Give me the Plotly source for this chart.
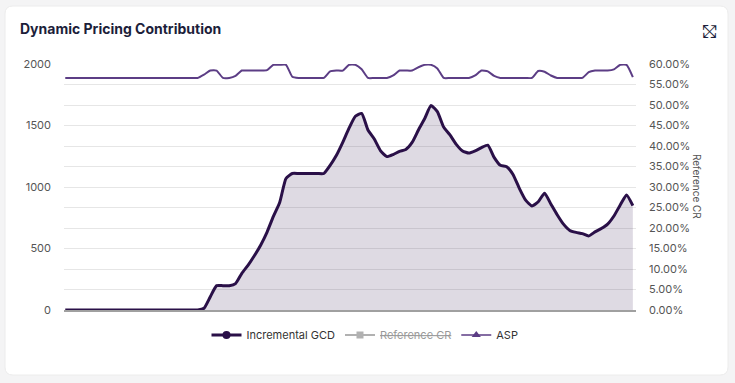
import plotly.graph_objects as go

# ---- data ----
days = list(range(91))

incremental_gcd = [0]*22 + [
    14, 108, 198, 198, 198, 215, 298, 365, 443, 529,
    634, 761, 874, 1069, 1110, 1110, 1110, 1110, 1110, 1110,
    1176, 1258, 1363, 1478, 1575, 1598, 1463, 1390, 1294, 1247,
    1264, 1290, 1305, 1362, 1464, 1557, 1662, 1613, 1487, 1423,
    1347, 1293, 1276, 1294, 1320, 1340, 1241, 1176, 1165, 1102,
    989, 893, 846, 880, 950, 862, 775, 698, 647, 631,
    621, 602, 635, 662, 698, 764, 854, 935, 848]

B, M, T = 0.566, 0.584, 0.598
asp = [B]*22 + [
    0.574, M, M, B, B, 0.571, M, M, M, M,          # 22-31
    0.585, T, T, T, 0.569, B, B, B, B, B,          # 32-41
    0.582, M, M, T, T, 0.587, B, B, B, B,          # 42-51
    0.572, M, M, M, 0.592, T, T, 0.589, B, B,      # 52-61
    B, B, B, 0.572, M, 0.582, 0.571, B, B, B,      # 62-71
    B, B, B, 0.583, 0.581, 0.572, B, B, B, B,      # 72-81
    B, 0.580, M, M, M, 0.587, T, T, 0.568]         # 82-90

reference_cr = [None]

left_ticks = [0, 500, 1000, 1500, 2000]

# ---- geometry helpers (plot area in px) ----
W, H = 735, 383
L, R, TOP, BOT = 64, 636, 64, 310
pw, ph = R - L, BOT - TOP
def fx(px): return (px - L) / pw
def fy(py): return (BOT - py) / ph

DARK = "#2a1048"
PURPLE = "#5c3d85"

fig = go.Figure()

fig.add_trace(go.Scatter(
    x=days, y=incremental_gcd, mode="lines", name="Incremental GCD",
    line=dict(color=DARK, width=3, shape="spline", smoothing=0.5), fill="tozeroy",
    fillcolor="rgba(70,50,100,0.18)", showlegend=False, legendgroup="g", yaxis="y"))
fig.add_trace(go.Scatter(
    x=days, y=asp, mode="lines", name="ASP",
    line=dict(color=PURPLE, width=2, shape="spline", smoothing=0.5),
    showlegend=False, legendgroup="a", yaxis="y2"))

# legend entries
fig.add_trace(go.Scatter(x=[None], y=[None], mode="lines+markers", name="Incremental GCD",
    line=dict(color=DARK, width=3), marker=dict(symbol="circle", size=8, color=DARK),
    legendgroup="g", yaxis="y"))
fig.add_trace(go.Scatter(x=reference_cr, y=reference_cr, mode="lines+markers",
    name='<span style="text-decoration:line-through">Reference CR</span>',
    line=dict(color="#666", width=2), marker=dict(symbol="square", size=7, color="#666"),
    visible="legendonly", yaxis="y2"))
fig.add_trace(go.Scatter(x=[None], y=[None], mode="lines+markers", name="ASP",
    line=dict(color=PURPLE, width=1.6), marker=dict(symbol="triangle-up", size=8, color=PURPLE),
    legendgroup="a", yaxis="y2"))

# card background
r = 8
x0, x1, y0, y1 = fx(5), fx(728), fy(375), fy(6)
rx, ry = r / pw, r / ph
path = (f"M {x0+rx},{y1} L {x1-rx},{y1} Q {x1},{y1} {x1},{y1-ry} "
        f"L {x1},{y0+ry} Q {x1},{y0} {x1-rx},{y0} L {x0+rx},{y0} "
        f"Q {x0},{y0} {x0},{y0+ry} L {x0},{y1-ry} Q {x0},{y1} {x0+rx},{y1} Z")
fig.add_shape(type="path", path=path, xref="paper", yref="paper",
              fillcolor="white", line=dict(color="#ececec", width=1), layer="below")

fig.update_layout(
    width=W, height=H,
    margin=dict(l=L, r=W - R, t=TOP, b=H - BOT, pad=0),
    paper_bgcolor="#f4f4f5", plot_bgcolor="rgba(0,0,0,0)",
    font=dict(family="Inter, Open Sans, sans-serif", color="#555", size=11),
    xaxis=dict(range=[-0.2, 90.5], showgrid=False, showticklabels=False, ticks="",
               zeroline=False, showline=True, linecolor="#a0a0a0", linewidth=2, fixedrange=True),
    yaxis=dict(range=[0, 2000], tickvals=left_ticks, showgrid=False, zeroline=False,
               ticks="", ticklabelstandoff=12, tickfont=dict(size=11, color="#555")),
    yaxis2=dict(range=[0, 0.6], dtick=0.05, tickformat=".2%", overlaying="y", side="right",
                showgrid=True, gridcolor="#e6e6e6", gridwidth=1, zeroline=False, ticks="",
                ticklabelstandoff=12, tickfont=dict(size=11, color="#555")),
    legend=dict(orientation="h", x=fx(365), xanchor="center", y=fy(335), yanchor="middle",
                font=dict(size=11, color="#333"), itemwidth=30, bgcolor="rgba(0,0,0,0)"),
    showlegend=True,
)

fig.add_annotation(text="<b>Dynamic Pricing Contribution</b>", xref="paper", yref="paper",
                   x=fx(18), y=fy(29), xanchor="left", yanchor="middle", showarrow=False,
                   font=dict(family="Inter, sans-serif", size=14, color="#1c1e3a"))
fig.add_annotation(text="Reference CR", xref="paper", yref="paper", x=fx(697), y=fy(186),
                   textangle=90, showarrow=False, xanchor="center", yanchor="middle",
                   font=dict(size=10, color="#555"))
for glyph in ("⤢", "⤡"):
    fig.add_annotation(text=glyph, xref="paper", yref="paper", x=fx(709), y=fy(30),
                       xanchor="center", yanchor="middle", showarrow=False,
                       font=dict(family="DejaVu Sans", size=18, color="#1c1e3a"))

fig.write_html("out.html", config={"displayModeBar": False},
               post_script="document.body.style.margin='0';document.body.style.overflow='hidden';")
